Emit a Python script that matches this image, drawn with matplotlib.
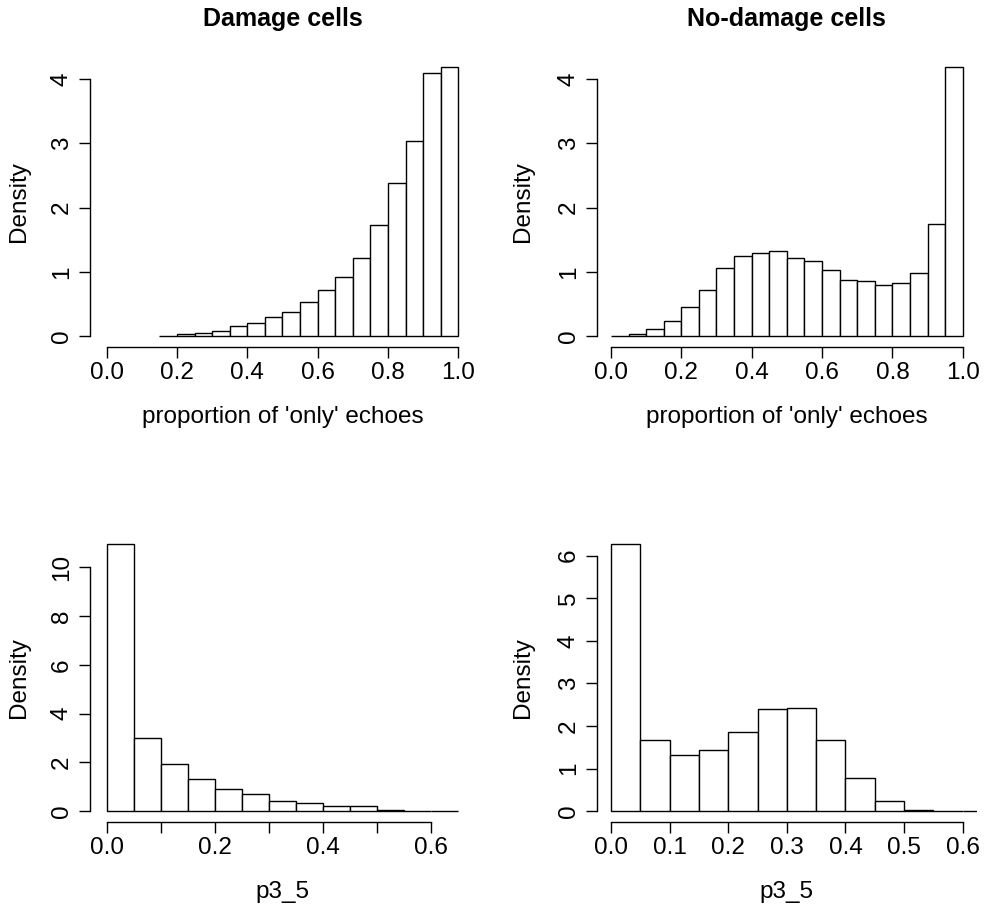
import matplotlib
matplotlib.use("Agg")
import matplotlib.pyplot as plt

plt.rcParams['font.family'] = ['Liberation Sans', 'DejaVu Sans']

# ---------------- data ----------------
# Damage cells, proportion of 'only' echoes (bin left edges, width 0.05)
dmg_prop_left = [0.15, 0.20, 0.25, 0.30, 0.35, 0.40, 0.45, 0.50, 0.55,
                 0.60, 0.65, 0.70, 0.75, 0.80, 0.85, 0.90, 0.95]
dmg_prop_dens = [0.004, 0.026, 0.052, 0.078, 0.156, 0.208, 0.291, 0.369, 0.530,
                 0.717, 0.924, 1.215, 1.724, 2.378, 3.043, 4.102, 4.185]

# No-damage cells, proportion of 'only' echoes
nod_prop_left = [0.00, 0.05, 0.10, 0.15, 0.20, 0.25, 0.30, 0.35, 0.40, 0.45,
                 0.50, 0.55, 0.60, 0.65, 0.70, 0.75, 0.80, 0.85, 0.90, 0.95]
nod_prop_dens = [0.004, 0.026, 0.109, 0.234, 0.447, 0.717, 1.059, 1.241, 1.298, 1.324,
                 1.215, 1.163, 1.033, 0.872, 0.852, 0.789, 0.820, 0.981, 1.750, 4.185]

# Damage cells, p3_5
dmg_p35_left = [0.00, 0.05, 0.10, 0.15, 0.20, 0.25, 0.30, 0.35, 0.40, 0.45,
                0.50, 0.55, 0.60]
dmg_p35_dens = [10.93, 2.99, 1.94, 1.34, 0.915, 0.70, 0.41, 0.34, 0.205, 0.205,
                0.068, 0.0, 0.0]

# No-damage cells, p3_5
nod_p35_left = [0.00, 0.05, 0.10, 0.15, 0.20, 0.25, 0.30, 0.35, 0.40, 0.45,
                0.50, 0.55, 0.60]
nod_p35_dens = [6.26, 1.67, 1.31, 1.44, 1.87, 2.39, 2.43, 1.67, 0.77, 0.23,
                0.04, 0.0, 0.0]

bin_width = 0.05

titles = ["Damage cells", "No-damage cells"]
xlabel_top = "proportion of 'only' echoes"
xlabel_bottom = "p3_5"
ylabel = "Density"

xticks_top = [0.0, 0.2, 0.4, 0.6, 0.8, 1.0]
xticklabels_top = ["0.0", "0.2", "0.4", "0.6", "0.8", "1.0"]
xticks_bottom = [0.0, 0.1, 0.2, 0.3, 0.4, 0.5, 0.6]
xticklabels_bl = ["0.0", "", "0.2", "", "0.4", "", "0.6"]
xticklabels_br = ["0.0", "0.1", "0.2", "0.3", "0.4", "0.5", "0.6"]
yticks = {
    0: [0, 1, 2, 3, 4],
    1: [0, 1, 2, 3, 4],
    2: [0, 2, 4, 6, 8, 10],
    3: [0, 1, 2, 3, 4, 5, 6],
}
xlims = {0: (0.0, 1.0), 1: (0.0, 1.0), 2: (0.0, 0.65), 3: (0.0, 0.6)}

# ---------------- figure ----------------
W, H = 991, 910
fig = plt.figure(figsize=(W / 100, H / 100), dpi=100)

cols = [(92.6, 472.4), (596.9, 976.8)]
rows = [(56.6, 346.7), (533.8, 821.9)]

FS = 17.5

def make_ax(r, c):
    l, rr = cols[c]
    t, b = rows[r]
    return fig.add_axes([l / W, 1 - b / H, (rr - l) / W, (b - t) / H])

panels = [
    (0, 0, dmg_prop_left, dmg_prop_dens),
    (0, 1, nod_prop_left, nod_prop_dens),
    (1, 0, dmg_p35_left, dmg_p35_dens),
    (1, 1, nod_p35_left, nod_p35_dens),
]

for i, (r, c, left, dens) in enumerate(panels):
    ax = make_ax(r, c)
    ax.bar(left, dens, width=bin_width, align='edge', facecolor='white',
           edgecolor='black', linewidth=1.0)
    x0, x1 = xlims[i]
    dx = (x1 - x0) * 0.04
    ax.set_xlim(x0 - dx, x1 + dx)
    ymax = max(dens)
    ax.set_ylim(-0.04 * ymax, 1.04 * ymax)

    for s in ['top', 'right']:
        ax.spines[s].set_visible(False)
    for s in ['left', 'bottom']:
        ax.spines[s].set_linewidth(1.0)
        ax.spines[s].set_color('black')
    if c == 0:
        ax.spines['left'].set_position(('outward', 1.9))

    if r == 0:
        ax.set_xticks(xticks_top)
        ax.set_xticklabels(xticklabels_top)
        ax.spines['bottom'].set_bounds(0.0, 1.0)
        ax.set_title(titles[c], fontsize=FS + 0.5, fontweight='bold',
                     y=1 + (rows[r][0] - 26) / (rows[r][1] - rows[r][0]),
                     va='baseline', pad=0)
        ax.set_xlabel(xlabel_top, fontsize=FS)
    else:
        ax.set_xticks(xticks_bottom)
        ax.set_xticklabels(xticklabels_bl if c == 0 else xticklabels_br)
        ax.spines['bottom'].set_bounds(0.0, 0.6)
        ax.set_xlabel(xlabel_bottom, fontsize=FS)

    yt = yticks[i]
    ax.set_yticks(yt)
    ax.set_yticklabels([str(v) for v in yt])
    ax.spines['left'].set_bounds(yt[0], yt[-1])

    ax.tick_params(axis='both', direction='out', length=7.9, width=1.0,
                   color='black', labelsize=FS)
    ax.tick_params(axis='x', pad=3.0)
    ax.tick_params(axis='y', pad=4.5, labelrotation=90)
    for lab in ax.get_yticklabels():
        lab.set_va('center')

    hpx = rows[r][1] - rows[r][0]
    wpx = cols[c][1] - cols[c][0]
    ax.xaxis.set_label_coords(0.5, -(423 - 346.7) / hpx if r == 0 else -(898 - 821.9) / hpx)
    ax.xaxis.label.set_va('baseline')

    ax.set_ylabel(ylabel, fontsize=FS)
    lab_x = 25 if c == 0 else 529
    ax.yaxis.set_label_coords((lab_x - cols[c][0]) / wpx, 0.5)
    ax.yaxis.label.set_va('baseline')

fig.savefig("out.png", dpi=100, facecolor='white')
